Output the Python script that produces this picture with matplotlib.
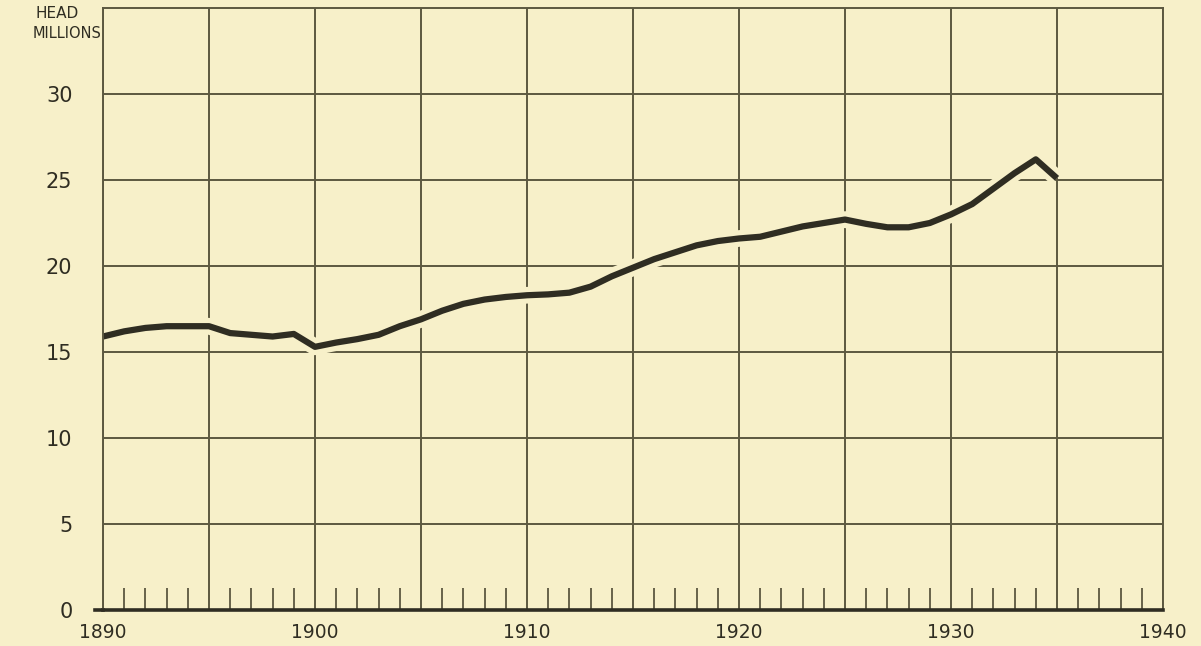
import matplotlib.pyplot as plt
import matplotlib.patheffects as pe
from matplotlib.ticker import MultipleLocator

BG = '#f7f0c9'
INK = '#2f2d22'
GRID = '#5c5840'

# Head of cattle, millions
years = list(range(1890, 1936))
head = [15.9, 16.2, 16.4, 16.5, 16.5, 16.5, 16.1, 16.0, 15.9, 16.05,
        15.3, 15.55, 15.75, 16.0, 16.5, 16.9, 17.4, 17.8, 18.05, 18.2,
        18.3, 18.35, 18.45, 18.8, 19.4, 19.9, 20.4, 20.8, 21.2, 21.45,
        21.6, 21.7, 22.0, 22.3, 22.5, 22.7, 22.45, 22.25, 22.25, 22.5,
        23.0, 23.6, 24.5, 25.4, 26.2, 25.1]

x_grid = list(range(1890, 1941, 5))
x_labels = ['1890', '', '1900', '', '1910', '', '1920', '', '1930', '', '1940']
y_ticks = [0, 5, 10, 15, 20, 25, 30]
y_labels = ['0', '5', '10', '15', '20', '25', '30']


def main() -> None:
    plt.rcParams['font.family'] = ['DejaVu Sans']
    fig = plt.figure(figsize=(12.01, 6.46), dpi=100, facecolor=BG)
    ax = fig.add_axes([103 / 1201, 36 / 646, 1060 / 1201, 602 / 646])
    ax.set_facecolor(BG)

    ax.set_xlim(1890, 1940)
    ax.set_ylim(0, 35)

    # grid every 5 years / 5 million head, small ticks for single years
    ax.set_xticks(x_grid)
    ax.set_xticklabels(x_labels)
    ax.set_xticks([y for y in range(1890, 1941) if y % 5], minor=True)
    ax.yaxis.set_major_locator(MultipleLocator(5))
    ax.set_yticks(y_ticks)
    ax.set_yticklabels(y_labels)
    ax.grid(True, which='major', color=GRID, linewidth=1.4)
    ax.set_axisbelow(True)

    ax.tick_params(axis='x', which='major', length=0, pad=9, labelsize=13.5, labelcolor=INK)
    ax.tick_params(axis='x', which='minor', direction='in', length=16, width=1.3, color=GRID)
    ax.tick_params(axis='y', which='major', length=0, pad=22, labelsize=15, labelcolor=INK)

    for side in ['top', 'right', 'left']:
        ax.spines[side].set_color(GRID)
        ax.spines[side].set_linewidth(1.4)
    ax.spines['bottom'].set_color(INK)
    ax.spines['bottom'].set_linewidth(2.6)
    ax.axhline(0, xmin=-0.008, xmax=0, color=INK, linewidth=2.6, clip_on=False)

    ax.plot(years, head, color=INK, linewidth=4.5, solid_capstyle='butt',
            solid_joinstyle='round',
            path_effects=[pe.Stroke(linewidth=12, foreground=BG), pe.Normal()])

    fig.text(57 / 1201, 1 - 13 / 646, 'HEAD', ha='center', va='center',
             fontsize=11, color=INK)
    fig.text(101 / 1201, 1 - 33 / 646, 'MILLIONS', ha='right', va='center',
             fontsize=10.5, color=INK)

    fig.savefig('out.png', dpi=100, facecolor=BG)


if __name__ == "__main__":
    main()
